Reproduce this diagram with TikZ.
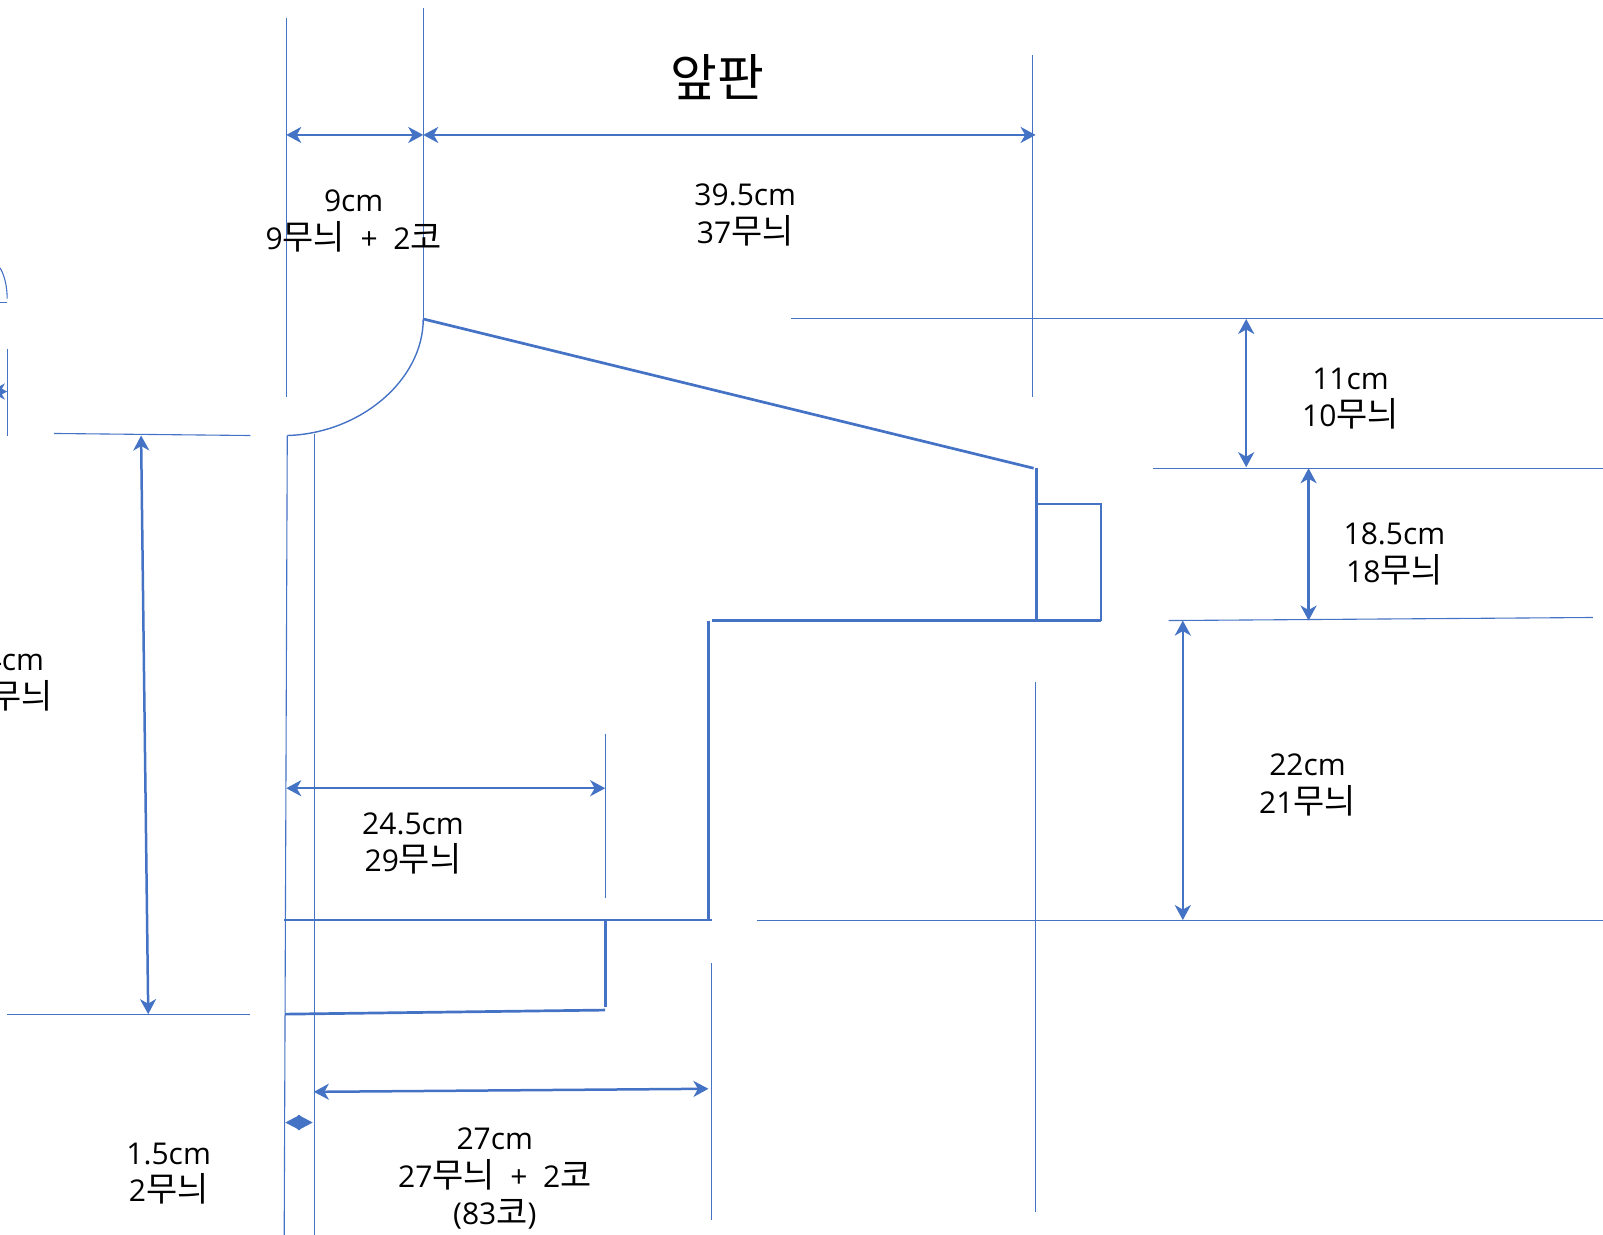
\documentclass[tikz,border=0pt]{standalone}
\usepackage{fontspec}
\setmainfont{Open Sans}
\newfontfamily\krfont[Scale=1.13]{Noto Sans CJK KR}
\usetikzlibrary{arrows.meta}
\definecolor{patblue}{HTML}{4472C4}
\newcommand{\mn}{{\krfont 무늬}}
\newcommand{\ko}{{\krfont 코}}
\tikzset{
    guide/.style={
    draw=patblue,line width=1.1pt
    },
    neckline/.style={
    draw=patblue,line width=1.4pt
    },
    seam/.style={
    draw=patblue,line width=2.7pt
    },
    dimension/.style={
    draw=patblue,line width=2.5pt,<->,>={Stealth[length=15pt,width=16pt,inset=4.5pt]}
    },
    banddim/.style={
    draw=patblue,line width=2.5pt,<->,>={Stealth[length=15pt,width=15pt,inset=0pt]}
    },
    measure/.style={
    align=center,inner sep=0pt,text=black,font=\fontsize{30}{37.6}\selectfont
    },
}
\begin{document}
\begin{tikzpicture}[x=1.0223pt,y=-1.0223pt]
   \useasboundingbox (0,0) rectangle (1568,1208);

   % guide lines
   \draw[guide] (280,18) -- (280,388);
   \draw[guide] (414,8) -- (414,312);
   \draw[guide] (1010,54) -- (1010,388);
   \draw[guide] (774,311.6) -- (1568,311.6);
   \draw[guide] (1128,458) -- (1568,458);
   \draw[guide] (1143,607) -- (1558,604);
   \draw[guide] (740,900) -- (1568,900);
   \draw[guide] (1013,667) -- (1013,1186);
   \draw[guide] (53,424) -- (245,426);
   \draw[guide] (7,992) -- (245,992);
   \draw[guide] (592,718) -- (592,878);
   \draw[guide] (696,942) -- (696,1193);
   \draw[guide] (308,425) -- (308,1208);
   \draw[guide] (281,426) -- (278,1208);
   \draw[guide] (7,341) -- (7,426);
   \draw[guide] (0,296) -- (7,296);
   \draw[guide] (0,262) .. controls (5,270) and (7,282) .. (7,292);

   % neck and body
   \draw[neckline] (414,312) .. controls (414,372) and (352,424) .. (281,426);
   \draw[seam] (414,312) -- (1011,458);
   \draw[seam] (1014,458) -- (1014,607);
   \draw[seam] (1014,493) -- (1077,493) -- (1077,607);
   \draw[seam] (696,607) -- (1077,607);
   \draw[seam] (693,607) -- (693,900);
   \draw[seam] (278,900) -- (696,900);
   \draw[seam] (592,900) -- (592,985);
   \draw[seam] (279,992) -- (592,988);

   \coordinate (shoulderl) at (280,132);
   \coordinate (shoulderm) at (414,132);
   \coordinate (shoulderr) at (1013,132);
   \coordinate (slopet) at (1219,312);
   \coordinate (slopeb) at (1219,457);
   \coordinate (armt) at (1280,458);
   \coordinate (armb) at (1280,607);
   \coordinate (sidet) at (1157,607);
   \coordinate (sideb) at (1157,900);
   \coordinate (lengtht) at (138,426);
   \coordinate (lengthb) at (145,992);
   \coordinate (hemwl) at (280,771);
   \coordinate (hemwr) at (592,771);
   \coordinate (bodywl) at (307,1068);
   \coordinate (bodywr) at (693,1065);
   \coordinate (bandl) at (279,1098);
   \coordinate (bandr) at (306,1098);
   \coordinate (edgel) at (-10,383);
   \coordinate (edger) at (7,383);

   \draw[dimension] (shoulderl) -- (shoulderm);
   \draw[dimension] (shoulderm) -- (shoulderr);
   \draw[dimension] (slopet) -- (slopeb);
   \draw[dimension] (armt) -- (armb);
   \draw[dimension] (sidet) -- (sideb);
   \draw[dimension] (lengtht) -- (lengthb);
   \draw[dimension] (hemwl) -- (hemwr);
   \draw[dimension] (bodywl) -- (bodywr);
   \draw[banddim] (bandl) -- (bandr);
   \draw[dimension] (edgel) -- (edger);

   \node[inner sep=0pt,font=\fontsize{45}{55}\selectfont\krfont] (title) at (702,75) {앞판};
   \node[measure] (neckw) at (346,216) {9cm\\9\mn{} ~+~ 2\ko};
   \node[measure] (shoulderw) at (729,210) {39.5cm\\37\mn};
   \node[measure] (slopeh) at (1321,390) {11cm\\10\mn};
   \node[measure] (armh) at (1364,542) {18.5cm\\18\mn};
   \node[measure] (sideh) at (1279,768) {22cm\\21\mn};
   \node[measure] (hemw) at (404,825) {24.5cm\\29\mn};
   \node[measure] (bodyw) at (484,1153) {27cm\\27\mn{} ~+~ 2\ko\\(83\ko)};
   \node[measure] (bandw) at (165,1148) {1.5cm\\2\mn};
   \node[measure,align=right,anchor=east] (lengthh) at (52,665) {4cm\kern9pt\\\mn};
\end{tikzpicture}
\end{document}
